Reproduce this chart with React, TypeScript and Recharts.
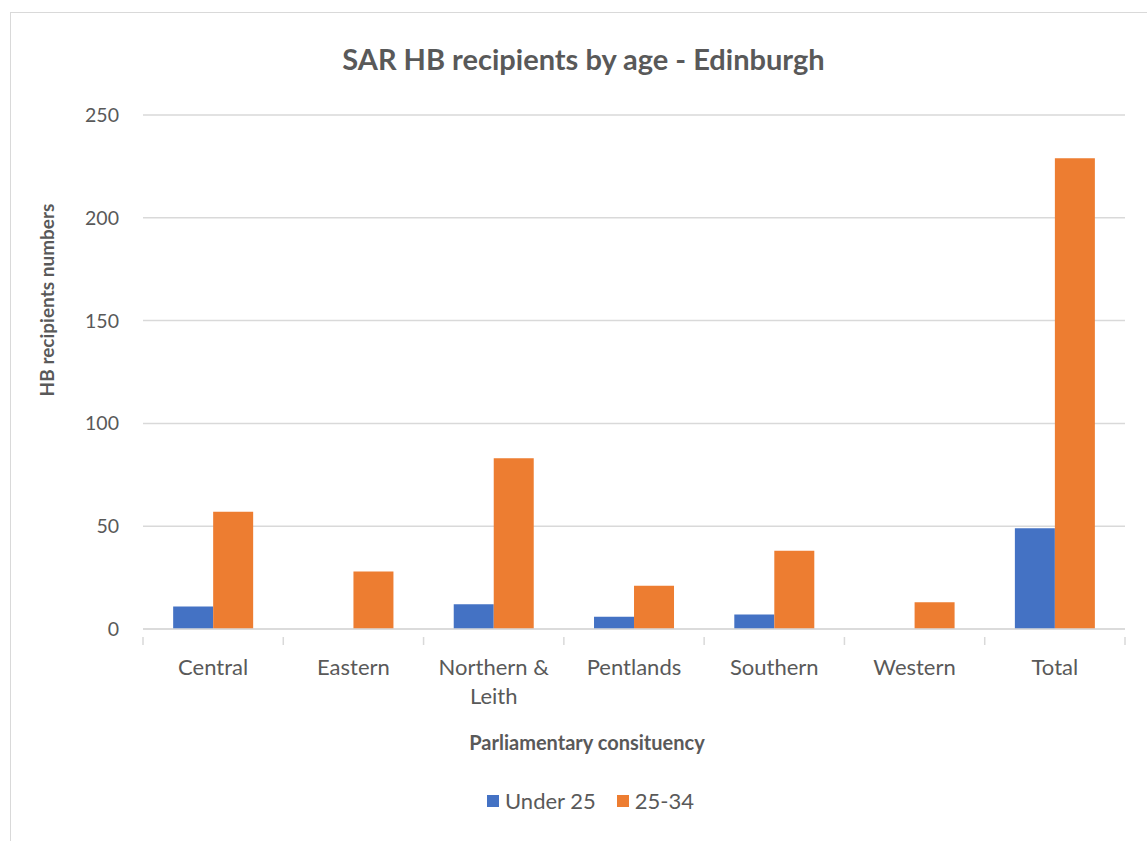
import React from 'react';
import { BarChart, Bar, XAxis, YAxis, CartesianGrid, Legend } from 'recharts';

const categories = ['Central', 'Eastern', 'Northern & Leith', 'Pentlands', 'Southern', 'Western', 'Total'];
const under25 = [11, 0, 12, 6, 7, 0, 49];
const age25to34 = [57, 28, 83, 21, 38, 13, 229];
const yTicks = [0, 50, 100, 150, 200, 250];

const seriesNames = { u25: 'Under 25', a2534: '25-34' };
const colors = { u25: '#4472C4', a2534: '#ED7D31' };

const data = categories.map((c, i) => ({ name: c, u25: under25[i], a2534: age25to34[i] }));

const W = 1147;
const H = 841;
const FONT = 'Lato, "Open Sans", sans-serif';
const TEXT = '#595959';
const GRID = '#d9d9d9';
const MAX_CHARS = 11;

function wrapLabel(label: string): string[] {
  const words = String(label).split(' ');
  const lines: string[] = [];
  let cur = '';
  for (const w of words) {
    const next = cur ? cur + ' ' + w : w;
    if (next.length > MAX_CHARS && cur) {
      lines.push(cur);
      cur = w;
    } else {
      cur = next;
    }
  }
  if (cur) lines.push(cur);
  return lines;
}

const XTick = (props: any) => {
  const { x, y, payload, index, visibleTicksCount } = props;
  const half = payload && typeof payload.offset === 'number' && payload.offset > 0 ? payload.offset : 70.14;
  const last = index === (visibleTicksCount ?? categories.length) - 1;
  const lines = wrapLabel(payload.value);
  return (
    <g>
      <line x1={x - half} y1={y} x2={x - half} y2={y + 8} stroke={GRID} strokeWidth={1.5} />
      {last && <line x1={x + half} y1={y} x2={x + half} y2={y + 8} stroke={GRID} strokeWidth={1.5} />}
      <text x={x} y={y + 38} textAnchor="middle" fill={TEXT} fontSize={22} fontFamily={FONT}>
        {lines.map((l, i) => (
          <tspan key={i} x={x} dy={i === 0 ? 0 : 29}>
            {l}
          </tspan>
        ))}
      </text>
    </g>
  );
};

const LegendContent = () => (
  <div style={{ display: 'flex', justifyContent: 'center', alignItems: 'center', fontFamily: FONT, fontSize: 22, color: TEXT, paddingLeft: 34 }}>
    {(['u25', 'a2534'] as const).map((k, i) => (
      <div key={k} style={{ display: 'flex', alignItems: 'center', marginLeft: i > 0 ? 21 : 0 }}>
        <span style={{ display: 'inline-block', width: 12, height: 12, background: colors[k], marginRight: 6 }} />
        <span>{seriesNames[k]}</span>
      </div>
    ))}
  </div>
);

export default function App() {
  return (
    <div style={{ position: 'fixed', left: 0, top: 0, width: W, height: H, overflow: 'hidden', background: '#fff' }}>
      <div style={{ position: 'absolute', left: 10, top: 12, width: 1300, height: 1000, border: `1px solid ${GRID}`, boxSizing: 'border-box' }} />
      <div style={{ position: 'absolute', left: 0, top: 0 }}>
        <BarChart
          width={W}
          height={H}
          data={data}
          margin={{ top: 115, right: 22, bottom: 152, left: 83 }}
          barCategoryGap="21.5%"
          barGap={0}
        >
          <CartesianGrid vertical={false} stroke={GRID} strokeWidth={1.5} />
          <XAxis
            dataKey="name"
            height={60}
            axisLine={{ stroke: GRID, strokeWidth: 1.5 }}
            tickLine={false}
            tick={<XTick />}
            interval={0}
          />
          <YAxis
            width={60}
            domain={[0, 250]}
            ticks={yTicks}
            axisLine={false}
            tickLine={false}
            tickSize={0}
            tickMargin={24}
            tick={{ fill: TEXT, fontSize: 19.5, fontFamily: FONT }}
          />
          <Bar dataKey="u25" name={seriesNames.u25} fill={colors.u25} isAnimationActive={false} />
          <Bar dataKey="a2534" name={seriesNames.a2534} fill={colors.a2534} isAnimationActive={false} />
          <Legend
            layout="horizontal"
            align="center"
            verticalAlign="middle"
            content={<LegendContent />}
            wrapperStyle={{ top: 787, left: 0, width: W }}
          />
        </BarChart>
      </div>
      <div style={{ position: 'absolute', left: 0, width: W, top: 40, textAlign: 'center', fontFamily: FONT, fontWeight: 700, fontSize: 29, color: TEXT, lineHeight: '38px', paddingLeft: 20, boxSizing: 'border-box' }}>
        SAR HB recipients by age - Edinburgh
      </div>
      <div style={{ position: 'absolute', left: 587 - 300, width: 600, top: 730, textAlign: 'center', fontFamily: FONT, fontWeight: 700, fontSize: 20, color: TEXT, lineHeight: '24px' }}>
        Parliamentary consituency
      </div>
      <div style={{ position: 'absolute', left: 47 - 150, top: 300 - 12, width: 300, height: 24, textAlign: 'center', fontFamily: FONT, fontWeight: 700, fontSize: 19, color: TEXT, lineHeight: '24px', transform: 'rotate(-90deg)' }}>
        HB recipients numbers
      </div>
    </div>
  );
}
